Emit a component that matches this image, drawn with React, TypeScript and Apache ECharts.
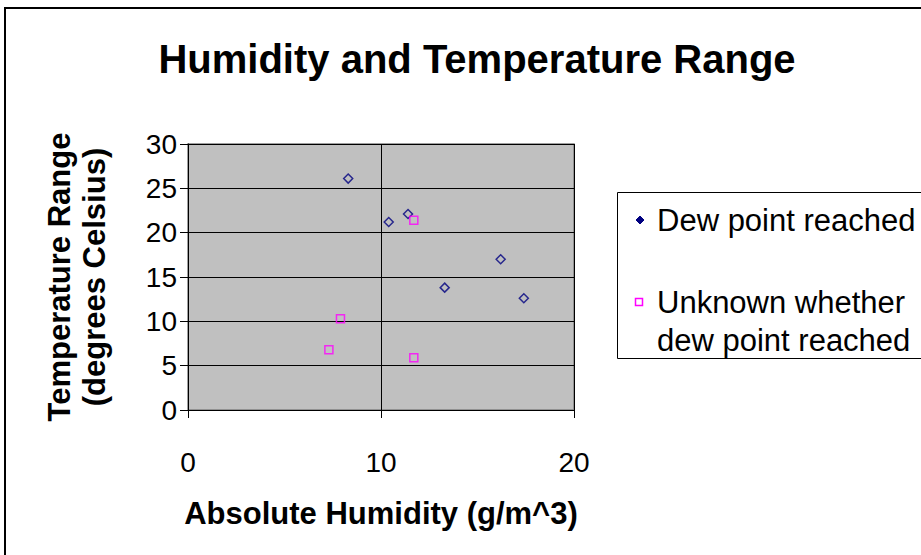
import React, { useEffect, useRef } from "react";
import * as echarts from "echarts";

const FONT = "'Liberation Sans', Arial, sans-serif";

const titleText = "Humidity and Temperature Range";
const xAxisName = "Absolute Humidity (g/m^3)";
const yAxisName = "Temperature Range\n(degrees Celsius)";
const seriesNames = ["Dew point reached", "Unknown whether\ndew point reached"];

const dewX = [8.3, 10.4, 11.4, 13.3, 16.2, 17.4];
const dewY = [26.1, 21.2, 22.1, 13.8, 17.0, 12.6];
const unkX = [11.7, 7.9, 7.3, 11.7];
const unkY = [21.4, 10.3, 6.8, 5.9];

const xTicks = [0, 10, 20];
const yTicks = [0, 5, 10, 15, 20, 25, 30];

export default function App() {
  const ref = useRef<HTMLDivElement>(null);
  useEffect(() => {
    if (!ref.current) return;
    const chart = echarts.init(ref.current, undefined, { renderer: "svg" });
    const dewData = dewX.map((x, i) => [x, dewY[i]]);
    const unkData = unkX.map((x, i) => [x, unkY[i]]);
    const axisCommon = {
      type: "value" as const,
      axisLine: { show: true, lineStyle: { color: "#000", width: 1 } },
      axisTick: { show: true, length: 8, inside: false, lineStyle: { color: "#000", width: 1 } },
      splitLine: { show: true, lineStyle: { color: "#000", width: 1 } },
      nameTextStyle: { fontFamily: FONT, fontSize: 31, fontWeight: "bold" as const, color: "#000" },
    };
    chart.setOption({
      animation: false,
      backgroundColor: "#fff",
      title: {
        text: titleText,
        left: 472,
        top: 34,
        textAlign: "center",
        textStyle: { fontFamily: FONT, fontSize: 40, fontWeight: "bold", color: "#000" },
      },
      grid: {
        left: 188,
        top: 144,
        width: 386,
        height: 266,
        show: true,
        backgroundColor: "#C0C0C0",
        borderColor: "#808080",
        borderWidth: 1.5,
      },
      xAxis: {
        ...axisCommon,
        min: xTicks[0],
        max: xTicks[xTicks.length - 1],
        interval: xTicks[1] - xTicks[0],
        name: xAxisName,
        nameLocation: "middle",
        nameGap: 88,
        axisLabel: { fontFamily: FONT, fontSize: 28, color: "#000", margin: 38 },
      },
      yAxis: {
        ...axisCommon,
        min: yTicks[0],
        max: yTicks[yTicks.length - 1],
        interval: yTicks[1] - yTicks[0],
        name: yAxisName,
        nameLocation: "middle",
        nameGap: 76,
        nameTextStyle: { ...axisCommon.nameTextStyle, lineHeight: 35 },
        axisLabel: { fontFamily: FONT, fontSize: 28, color: "#000", margin: 11 },
      },
      series: [
        {
          name: seriesNames[0],
          type: "scatter",
          data: dewData,
          symbol: "diamond",
          symbolSize: 9,
          itemStyle: { color: "rgba(0,0,0,0)", borderColor: "#000080", borderWidth: 1.5 },
        },
        {
          name: seriesNames[1],
          type: "scatter",
          data: unkData,
          symbol: "rect",
          symbolSize: 8,
          itemStyle: { color: "rgba(0,0,0,0)", borderColor: "#FF00FF", borderWidth: 1.5 },
        },
      ],
      graphic: [
        {
          type: "rect",
          shape: { x: 5, y: 8, width: 2000, height: 2000 },
          style: { fill: "none", stroke: "#000", lineWidth: 2 },
          silent: true,
        },
        {
          type: "rect",
          shape: { x: 617.5, y: 192.5, width: 400, height: 166 },
          style: { fill: "#fff", stroke: "#000", lineWidth: 1 },
          silent: true,
        },
        {
          type: "polygon",
          shape: { points: [[640, 216], [644, 220], [640, 224], [636, 220]] },
          style: { fill: "#000080", stroke: "#000080", lineWidth: 1 },
        },
        {
          type: "text",
          x: 657,
          y: 220,
          style: {
            text: seriesNames[0],
            fontFamily: FONT,
            fontSize: 31,
            fill: "#000",
            verticalAlign: "middle",
            align: "left",
          },
        },
        {
          type: "rect",
          shape: { x: 635.5, y: 298.5, width: 7, height: 7 },
          style: { fill: "none", stroke: "#FF00FF", lineWidth: 1.5 },
        },
        {
          type: "text",
          x: 657,
          y: 302 - 19,
          style: {
            text: seriesNames[1],
            fontFamily: FONT,
            fontSize: 31,
            lineHeight: 38,
            fill: "#000",
            verticalAlign: "top",
            align: "left",
          },
        },
      ],
    });
    return () => chart.dispose();
  }, []);
  return (
    <div
      ref={ref}
      style={{ position: "absolute", left: 0, top: 0, width: 921, height: 555 }}
    />
  );
}
